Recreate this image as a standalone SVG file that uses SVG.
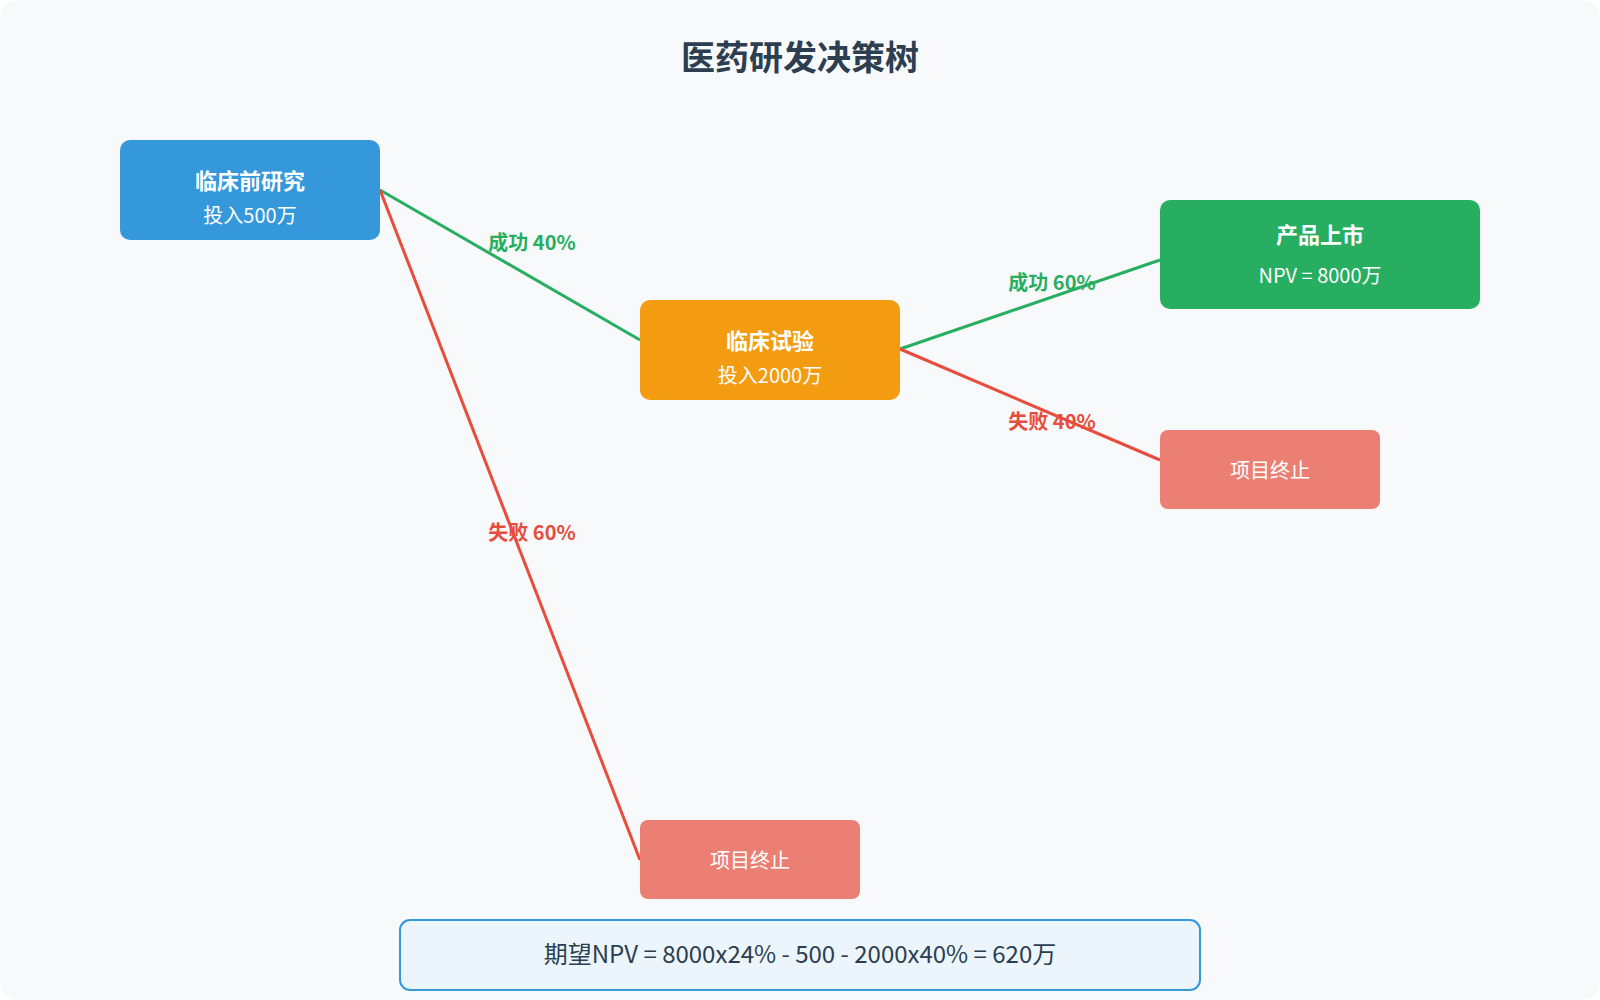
<svg xmlns="http://www.w3.org/2000/svg" width="1600" height="1000" viewBox="0 0 1600 1000">
<style>
text{font-family:"Noto Sans CJK SC","DejaVu Sans",sans-serif;text-anchor:middle}
.t{fill:#fff;font-size:22px;font-weight:bold}
.s{fill:#fff;font-size:20px}
.lbl{font-size:20px;font-weight:bold}
.g{stroke:#27ae60;stroke-width:3;fill:none}
.r{stroke:#e74c3c;stroke-width:3;fill:none}
</style>
<rect x="0" y="0" width="1600" height="1000" rx="20" fill="#f8f9fa"/>
<text x="800" y="70" font-size="34" font-weight="bold" fill="#2c3e50">医药研发决策树</text>
<g id="connectors">
<line class="g" x1="380" y1="190" x2="640" y2="340"/>
<line class="r" x1="380" y1="190" x2="640" y2="860"/>
<line class="g" x1="900" y1="349" x2="1160" y2="260"/>
<line class="r" x1="900" y1="349" x2="1160" y2="460"/>
<text class="lbl" x="532" y="250" fill="#27ae60">成功 40%</text>
<text class="lbl" x="532" y="540" fill="#e74c3c">失败 60%</text>
<text class="lbl" x="1052" y="290" fill="#27ae60">成功 60%</text>
<text class="lbl" x="1052" y="429" fill="#e74c3c">失败 40%</text>
</g>
<g id="n1"><rect x="120" y="140" width="260" height="100" rx="10" fill="#3498db"/>
<text class="t" x="250" y="189">临床前研究</text><text class="s" x="250" y="223">投入500万</text></g>
<g id="n2"><rect x="640" y="300" width="260" height="100" rx="10" fill="#f39c12"/>
<text class="t" x="770" y="349">临床试验</text><text class="s" x="770" y="383">投入2000万</text></g>
<g id="n3"><rect x="1160" y="200" width="320" height="109" rx="10" fill="#27ae60"/>
<text class="t" x="1320" y="243">产品上市</text><text class="s" x="1320" y="283">NPV = 8000万</text></g>
<g id="n4"><rect x="1160" y="430" width="220" height="79" rx="8" fill="#ec7f74"/>
<text class="s" x="1270" y="478" font-size="22">项目终止</text></g>
<g id="n5"><rect x="640" y="820" width="220" height="79" rx="8" fill="#ec7f74"/>
<text class="s" x="750" y="868" font-size="22">项目终止</text></g>
<g id="summary"><rect x="400" y="920" width="800" height="70" rx="10" fill="#ebf5fb" stroke="#3498db" stroke-width="2"/>
<text x="800" y="963" font-size="24" fill="#2c3e50">期望NPV = 8000x24% - 500 - 2000x40% = 620万</text></g>
</svg>
